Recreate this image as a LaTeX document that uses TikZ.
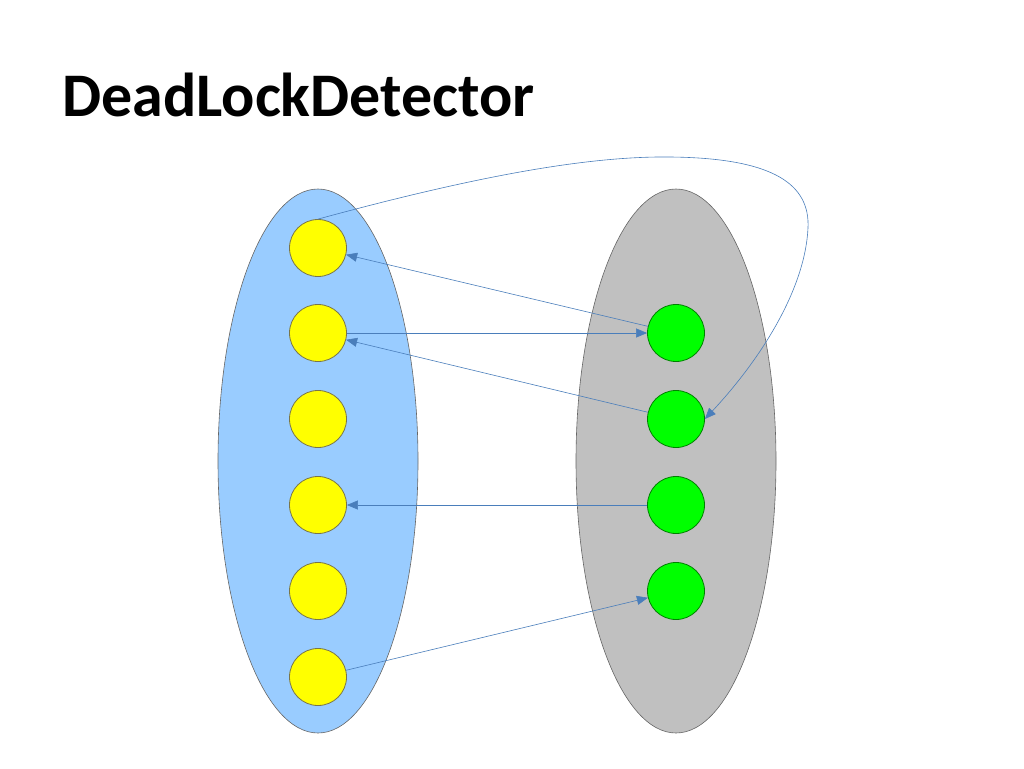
\documentclass[tikz,border=0pt]{standalone}
\usepackage{fontspec}
\setmainfont{Carlito}
\usetikzlibrary{arrows.meta}
\definecolor{lblue}{RGB}{153,204,255}
\definecolor{lgray}{RGB}{192,192,192}
\definecolor{ygl}{RGB}{255,255,0}
\definecolor{ggl}{RGB}{0,255,0}
\definecolor{lnc}{RGB}{74,126,187}
\tikzset{
  set/.style={ellipse, draw=black!60, line width=0.6pt, minimum width=200pt, minimum height=544pt, inner sep=0pt},
  ynode/.style={circle, draw=black!60!yellow, fill=ygl, line width=0.8pt, minimum size=57pt, inner sep=0pt},
  gnode/.style={circle, draw=black!50!green, fill=ggl, line width=0.8pt, minimum size=57pt, inner sep=0pt},
  conn/.style={draw=lnc, line width=0.6pt, -{Triangle[length=11pt,width=9pt]}},
}
\usetikzlibrary{shapes.geometric}
\begin{document}
\begin{tikzpicture}[x=1pt,y=-1pt]
\useasboundingbox (0,0) rectangle (1024,768);
\node[anchor=base west, inner sep=0pt, font=\bfseries\fontsize{62}{70}\selectfont] (title) at (62,116) {DeadLockDetector};
\node[set, fill=lblue] (L) at (318,461) {};
\node[set, fill=lgray] (R) at (676,461) {};
\foreach \i/\y in {1/248,2/333,3/419,4/505,5/591,6/677}
  \node[ynode] (y\i) at (318,\y) {};
\foreach \i/\y in {1/333,2/419,3/505,4/591}
  \node[gnode] (g\i) at (676,\y) {};
\draw[conn] (g1) -- (y1);
\draw[conn] (y2) -- (g1);
\draw[conn] (g2) -- (y2);
\draw[conn] (g3) -- (y4);
\draw[conn] (y6) -- (g4);
\draw[conn] (y1.north) .. controls (480,175) and (590,156) .. (670,157)
  .. controls (775,158) and (810,185) .. (808,228)
  .. controls (805,290) and (760,360) .. (g2.east);
\end{tikzpicture}
\end{document}
